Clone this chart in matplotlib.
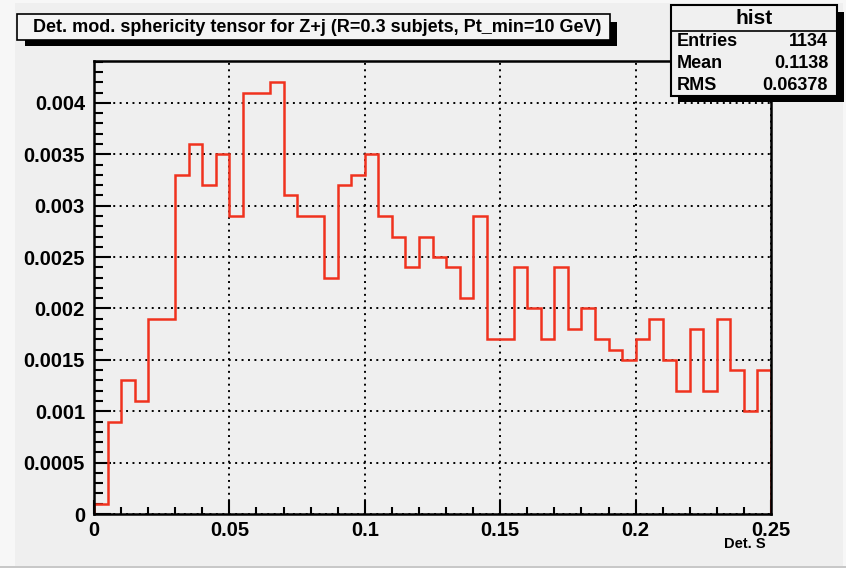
import numpy as np
import matplotlib
matplotlib.use("Agg")
import matplotlib.pyplot as plt
from matplotlib.patches import Rectangle
from matplotlib.lines import Line2D
from matplotlib.ticker import MultipleLocator, FixedFormatter, FixedLocator

# ---- histogram content -------------------------------------------------
x_lo, x_hi, n_bins = 0.0, 0.25, 50
bin_contents = [
    0.0001, 0.0009, 0.0013, 0.0011, 0.0019, 0.0019, 0.0033, 0.0036, 0.0032, 0.0035,
    0.0029, 0.0041, 0.0041, 0.0042, 0.0031, 0.0029, 0.0029, 0.0023, 0.0032, 0.0033,
    0.0035, 0.0029, 0.0027, 0.0024, 0.0027, 0.0025, 0.0024, 0.0021, 0.0029, 0.0017,
    0.0017, 0.0024, 0.0020, 0.0017, 0.0024, 0.0018, 0.0020, 0.0017, 0.0016, 0.0015,
    0.0017, 0.0019, 0.0015, 0.0012, 0.0018, 0.0012, 0.0019, 0.0014, 0.0010, 0.0014,
]
x_ticks = [0, 0.05, 0.1, 0.15, 0.2, 0.25]
x_tick_labels = ["0", "0.05", "0.1", "0.15", "0.2", "0.25"]
y_ticks = [0, 0.0005, 0.001, 0.0015, 0.002, 0.0025, 0.003, 0.0035, 0.004]
y_tick_labels = ["0", "0.0005", "0.001", "0.0015", "0.002", "0.0025", "0.003", "0.0035", "0.004"]

title_text = "Det. mod. sphericity tensor for Z+j (R=0.3 subjets, Pt_min=10 GeV)"
x_title = "Det. S"
stats_name = "hist"
stats_rows = [("Entries", "1134"), ("Mean", "0.1138"), ("RMS", "0.06378")]

# ---- canvas -------------------------------------------------------------
W, H = 846, 568
plt.rcParams["font.family"] = ["Liberation Sans", "DejaVu Sans"]
plt.rcParams["font.weight"] = "bold"

fig = plt.figure(figsize=(W / 100, H / 100), dpi=100, facecolor="#f7f7f7")


def fx(px):
    return px / W


def fy(py):
    return 1 - py / H


def frect(x0, y0, x1, y1, **kw):
    """Rectangle in figure pixel coordinates (y measured from the top)."""
    r = Rectangle((fx(x0), fy(y1)), fx(x1) - fx(x0), fy(y0) - fy(y1),
                  transform=fig.transFigure, **kw)
    fig.add_artist(r)
    return r


# pad background
frect(15, 3, 843, 566, facecolor="#efefef", edgecolor="none", zorder=0)
frect(0, 566, 846, 568, facecolor="#c8c8c8", edgecolor="none", zorder=0)

# ---- frame ---------------------------------------------------------------
ax_l, ax_r, ax_t, ax_b = 94, 771, 61, 514
ax = fig.add_axes([fx(ax_l), fy(ax_b), fx(ax_r) - fx(ax_l), fy(ax_t) - fy(ax_b)])
ax.set_facecolor("#efefef")

edges = np.linspace(x_lo, x_hi, n_bins + 1)
ax.stairs(bin_contents, edges, color="#f0321e", linewidth=1.8, zorder=3)

ax.set_xlim(x_lo, x_hi)
ax.set_ylim(0, 0.004408)

ax.xaxis.set_major_locator(FixedLocator(x_ticks))
ax.xaxis.set_major_formatter(FixedFormatter(x_tick_labels))
ax.xaxis.set_minor_locator(MultipleLocator(0.01))
ax.yaxis.set_major_locator(FixedLocator(y_ticks))
ax.yaxis.set_major_formatter(FixedFormatter(y_tick_labels))
ax.yaxis.set_minor_locator(MultipleLocator(0.0001))

ax.tick_params(axis="both", which="both", direction="in", color="black",
               top=False, right=False, labelsize=14.5, width=1.5)
ax.tick_params(axis="x", which="major", length=10, pad=5)
ax.tick_params(axis="x", which="minor", length=5)
ax.tick_params(axis="y", which="major", length=12, pad=6.5)
ax.tick_params(axis="y", which="minor", length=6.5)
for lbl in ax.get_xticklabels() + ax.get_yticklabels():
    lbl.set_fontweight("bold")

ax.grid(True, which="major", color="black", linestyle=(0, (1, 2.3)),
        linewidth=1.4, zorder=1)
ax.set_axisbelow(True)

for s in ax.spines.values():
    s.set_linewidth(1.8)
    s.set_color("black")
    s.set_zorder(4)

fig.text(fx(766), fy(544), x_title, ha="right", va="center",
         fontsize=10.5, fontweight="bold")

# ---- title box -------------------------------------------------------------
tb_l, tb_t, tb_r, tb_b = 17, 14, 610, 40
frect(tb_l + 8, tb_t + 8, tb_r + 7, tb_b + 6, facecolor="black", edgecolor="none", zorder=5)
frect(tb_l, tb_t, tb_r, tb_b, facecolor="#f4f4f4", edgecolor="black", linewidth=1.2, zorder=6)
fig.text(fx(33), fy((tb_t + tb_b) / 2 + 0.5), title_text, ha="left", va="center",
         fontsize=12.95, fontweight="bold", zorder=7)

# ---- statistics box --------------------------------------------------------
sb_l, sb_t, sb_r, sb_b = 671, 5, 837, 96
frect(sb_l + 7, sb_t + 7, sb_r + 7, sb_b + 6, facecolor="black", edgecolor="none", zorder=5)
frect(sb_l, sb_t, sb_r, sb_b, facecolor="#f0f0f0", edgecolor="black", linewidth=1.5, zorder=6)
fig.add_artist(Line2D([fx(sb_l), fx(sb_r)], [fy(31), fy(31)], transform=fig.transFigure,
                      color="black", linewidth=1.2, zorder=7))
fig.text(fx((sb_l + sb_r) / 2), fy(18.5), stats_name, ha="center", va="center",
         fontsize=15, fontweight="bold", zorder=7)
row_y = [41, 63, 85.5]
for (name, val), ry in zip(stats_rows, row_y):
    fig.text(fx(677), fy(ry), name, ha="left", va="center",
             fontsize=13, fontweight="bold", zorder=7)
    fig.text(fx(828), fy(ry), val, ha="right", va="center",
             fontsize=13, fontweight="bold", zorder=7)

fig.savefig("out.png", dpi=100, facecolor=fig.get_facecolor())
